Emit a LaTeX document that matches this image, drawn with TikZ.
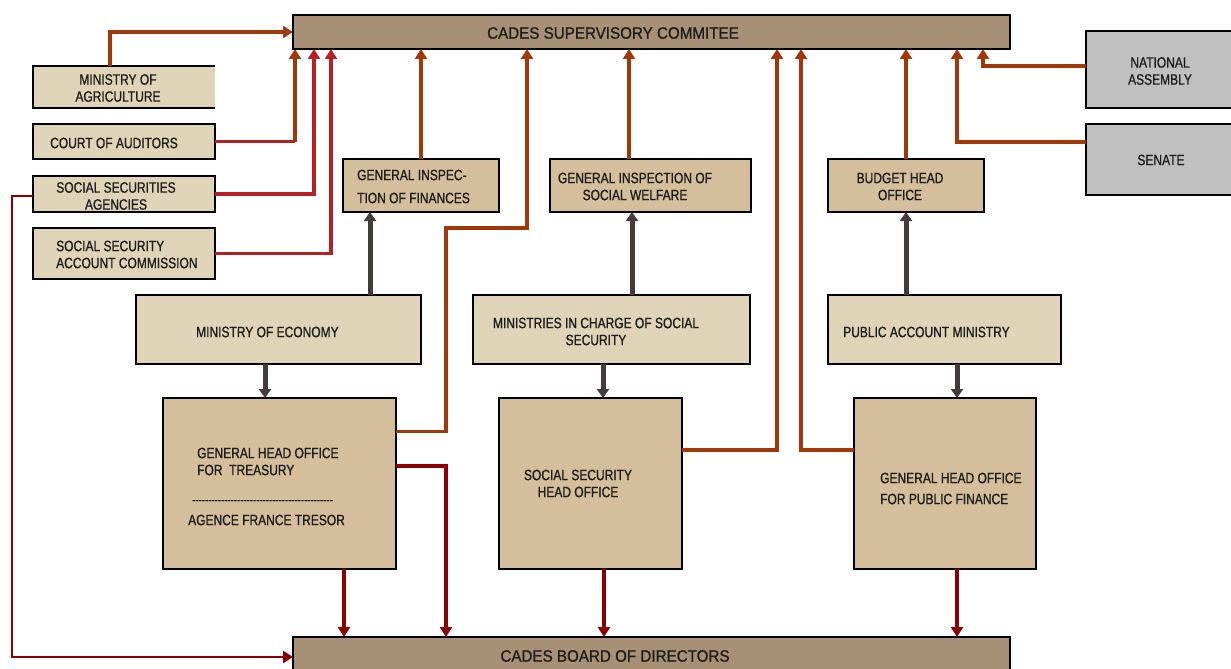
\documentclass[tikz,border=0pt]{standalone}
\usepackage{fontspec}
\setmainfont{Liberation Sans}[FakeStretch=0.80,FakeBold=1]
\newfontfamily\titlefont{Liberation Sans}[FakeStretch=0.92,FakeBold=1]
\usetikzlibrary{arrows.meta}
\definecolor{hdr}{RGB}{168,144,118}
\definecolor{lightbox}{RGB}{224,212,184}
\definecolor{darkbox}{RGB}{212,190,155}
\definecolor{graybox}{RGB}{192,192,192}
\definecolor{orangec}{RGB}{160,56,10}
\definecolor{redc}{RGB}{181,32,37}
\definecolor{darkredc}{RGB}{139,0,0}
\definecolor{grayc}{RGB}{69,59,59}
\definecolor{txtc}{RGB}{30,30,30}
\begin{document}
\begin{tikzpicture}[x=1pt,y=-1pt,
  box/.style={draw=black,line width=2.8pt,inner sep=0pt,outer sep=0pt},
  hbox/.style={box,fill=hdr},
  lbox/.style={box,fill=lightbox},
  dbox/.style={box,fill=darkbox},
  gbox/.style={box,fill=graybox},
  txt/.style={font=\fontsize{15}{17}\selectfont,text=txtc,inner sep=0pt,align=center},
  ltxt/.style={txt,align=left,anchor=west},
  oarr/.style={draw=orangec,line width=3.6pt,-{Triangle[width=12pt,length=10pt]}},
  rline/.style={draw=redc,line width=3.2pt},
  rarr/.style={rline,-{Triangle[width=12pt,length=10pt]}},
  drarr/.style={draw=darkredc,line width=3.4pt,-{Triangle[width=12pt,length=10pt]}},
  garr/.style={draw=grayc,line width=5pt,-{Triangle[width=12pt,length=9pt]}}
]
\clip (0,0) rectangle (1231,669);
\fill[white] (0,0) rectangle (1231,669);

% boxes
\node[hbox,minimum width=717pt,minimum height=34pt] (sup) at (651.5,32) {};
\node[hbox,minimum width=717pt,minimum height=40pt] (board) at (651.5,657) {};

\node[box,draw=none,fill=lightbox,minimum width=182pt,minimum height=42pt] (agr) at (124,87) {};
\draw[line width=2.8pt] (agr.north east) -- (agr.north west) -- (agr.south west) -- (agr.south east);
\node[lbox,minimum width=182pt,minimum height=35pt] (court) at (124,141.5) {};
\node[lbox,minimum width=182pt,minimum height=36pt] (ssa) at (124,194) {};
\node[lbox,minimum width=182pt,minimum height=51pt] (ssac) at (124,253.5) {};

\node[dbox,minimum width=156pt,minimum height=53pt] (gif) at (421,185.5) {};
\node[dbox,minimum width=201pt,minimum height=53pt] (gisw) at (650.5,185.5) {};
\node[dbox,minimum width=156pt,minimum height=53pt] (bho) at (906,185.5) {};

\node[gbox,minimum width=154pt,minimum height=77pt] (na) at (1163,69.5) {};
\node[gbox,minimum width=154pt,minimum height=71pt] (senate) at (1163,159.5) {};

\node[lbox,minimum width=285pt,minimum height=69pt] (econ) at (278.5,329.5) {};
\node[lbox,minimum width=277pt,minimum height=69pt] (mss) at (611.5,329.5) {};
\node[lbox,minimum width=233pt,minimum height=69pt] (pam) at (944.5,329.5) {};

\node[dbox,minimum width=233pt,minimum height=171pt] (treas) at (279.5,483.5) {};
\node[dbox,minimum width=183pt,minimum height=171pt] (ssho) at (590.5,483.5) {};
\node[dbox,minimum width=182pt,minimum height=171pt] (pf) at (945,483.5) {};

% texts
\node[txt,font=\titlefont\fontsize{16.5}{20}\selectfont] (tsup) at (613,33) {CADES SUPERVISORY COMMITEE};
\node[txt,font=\titlefont\fontsize{16.5}{20}\selectfont] (tboard) at (615,656) {CADES BOARD OF DIRECTORS};
\node[txt] (tagr) at (118,88) {MINISTRY OF\\AGRICULTURE};
\node[ltxt] (tcourt) at (50,143) {COURT OF AUDITORS};
\node[txt] (tssa) at (116,196) {SOCIAL SECURITIES\\AGENCIES};
\node[ltxt] (tssac) at (56,254.5) {SOCIAL SECURITY\\ACCOUNT COMMISSION};
\node[ltxt,font=\fontsize{15}{23}\selectfont] (tgif) at (357,186.5) {GENERAL INSPEC-\\TION OF FINANCES};
\node[txt] (tgisw) at (635,186.5) {GENERAL INSPECTION OF\\SOCIAL WELFARE};
\node[txt] (tbho) at (900,186.5) {BUDGET HEAD\\OFFICE};
\node[txt] (tna) at (1160,71) {NATIONAL\\ASSEMBLY};
\node[txt] (tsen) at (1161,160) {SENATE};
\node[ltxt] (tecon) at (196,332) {MINISTRY OF ECONOMY};
\node[txt] (tmss) at (596,331.5) {MINISTRIES IN CHARGE OF SOCIAL\\SECURITY};
\node[ltxt] (tpam) at (843,332) {PUBLIC ACCOUNT MINISTRY};
\node[ltxt] (ttreas) at (197,461.5) {GENERAL HEAD OFFICE\\FOR\ \ TREASURY};
\node[ltxt,font=\fontsize{12}{14}\selectfont] (tdash) at (192,502) {{-}{-}{-}{-}{-}{-}{-}{-}{-}{-}{-}{-}{-}{-}{-}{-}{-}{-}{-}{-}{-}{-}{-}{-}{-}{-}{-}{-}{-}{-}{-}{-}{-}{-}{-}{-}{-}{-}{-}{-}{-}{-}{-}{-}};
\node[ltxt] (taft) at (188,520) {AGENCE FRANCE TRESOR};
\node[txt] (tssho) at (578,483.5) {SOCIAL SECURITY\\HEAD OFFICE};
\node[ltxt,font=\fontsize{15}{21}\selectfont] (tpf) at (880,488.5) {GENERAL HEAD OFFICE\\FOR PUBLIC FINANCE};

% connectors to supervisory committee
\draw[oarr] ([xshift=-14pt]agr.north) |- (sup.west);
\path (court.east) -| coordinate[pos=.5] (k1) ([xshift=2pt]sup.south west);
\draw[rline] (court.east) -- (k1);
\draw[oarr] (k1) -- ([xshift=2pt]sup.south west);
\draw[rarr] (ssa.east) -| ([xshift=21pt]sup.south west);
\draw[rarr] (ssac.east) -| ([xshift=38pt]sup.south west);
\draw[oarr] (gif.north) -- (gif.north |- sup.south);
\coordinate (b1) at (446,228);
\draw[oarr] ([yshift=52pt]treas.east) -| (b1) -| ([xshift=234pt]sup.south west);
\path ([xshift=-21.5pt]gisw.north) coordinate (g1);
\draw[oarr] (g1) -- (g1 |- sup.south);
\draw[oarr] ([yshift=33.5pt]ssho.east) -| ([xshift=484pt]sup.south west);
\draw[oarr] ([yshift=33.5pt]pf.west) -| ([xshift=508pt]sup.south west);
\draw[oarr] (bho.north) -- (bho.north |- sup.south);
\draw[oarr] ([yshift=17.5pt]senate.west) -| ([xshift=664pt]sup.south west);
\draw[oarr] ([yshift=3.5pt]na.west) -| ([xshift=690pt]sup.south west);

% gray connectors
\path ([xshift=91.5pt]econ.north) coordinate (e1);
\draw[garr] (e1) -- (e1 |- gif.south);
\path ([xshift=20.5pt]mss.north) coordinate (m1);
\draw[garr] (m1) -- (m1 |- gisw.south);
\draw[garr] (bho.south |- pam.north) -- (bho.south);
\path ([xshift=-13.5pt]econ.south) coordinate (e2);
\draw[garr] (e2) -- (e2 |- treas.north);
\path ([xshift=-8.5pt]mss.south) coordinate (m2);
\draw[garr] (m2) -- (m2 |- ssho.north);
\path ([xshift=12.5pt]pam.south) coordinate (p2);
\draw[garr] (p2) -- (p2 |- pf.north);

% connectors to board of directors
\draw[drarr,line width=2.8pt] ([yshift=-2pt]ssa.west) -- ++(-21,0) |- (board.west);
\path ([xshift=64.5pt]treas.south) coordinate (d1);
\draw[drarr] (d1) -- (d1 |- board.north);
\draw[drarr] ([yshift=17.5pt]treas.east) -| ([xshift=153pt]board.north west);
\path ([xshift=13.5pt]ssho.south) coordinate (d2);
\draw[drarr] (d2) -- (d2 |- board.north);
\path ([xshift=12pt]pf.south) coordinate (d3);
\draw[drarr] (d3) -- (d3 |- board.north);
\end{tikzpicture}
\end{document}
